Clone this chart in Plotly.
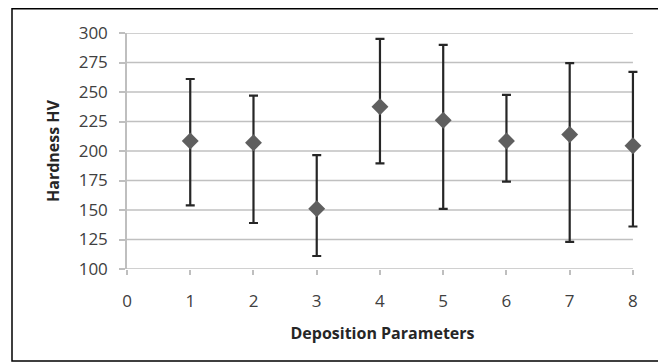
import plotly.graph_objects as go

params = [1, 2, 3, 4, 5, 6, 7, 8]
hardness = [208.5, 207, 151, 237.5, 226, 208.5, 214, 204.5]
upper = [261, 247, 196.5, 295, 290, 247.5, 274.5, 267]
lower = [154, 139, 111, 189.5, 151, 174, 123, 136]
y_ticks = [100, 125, 150, 175, 200, 225, 250, 275, 300]
x_ticks = [0, 1, 2, 3, 4, 5, 6, 7, 8]

err_plus = [u - m for u, m in zip(upper, hardness)]
err_minus = [m - l for m, l in zip(hardness, lower)]

font_family = "Open Sans, Liberation Sans, sans-serif"

fig = go.Figure()
fig.add_trace(go.Scatter(
    x=params, y=hardness, mode="markers",
    marker=dict(symbol="diamond", size=13, color="#5f5f5f"),
    error_y=dict(type="data", symmetric=False, array=err_plus, arrayminus=err_minus,
                 color="#262626", thickness=2.2, width=4.5),
    cliponaxis=False,
    showlegend=False,
))

# page body has an 8px margin, so the figure is drawn 8px in from the window edge
x_max_axis = 8.08
W, H = 658, 355
l, t, b = 119, 25, 94
pw = round(506 * x_max_axis / 8)
r = W - l - pw
ph = H - t - b

def px_x(p):
    return (p - l) / pw

def px_y(p):
    return (H - b - p) / ph

# horizontal gridlines ending at the last category
for yv in y_ticks:
    fig.add_shape(type="line", xref="x", yref="y", x0=x_ticks[0], x1=x_ticks[-1], y0=yv, y1=yv,
                  line=dict(color="#c0c0c0", width=1.5), layer="below")

fig.add_shape(type="rect", xref="paper", yref="paper",
              x0=px_x(4), x1=px_x(654), y0=px_y(353), y1=px_y(0.8),
              line=dict(color="black", width=1.5), layer="below")

fig.update_layout(
    width=W, height=H,
    margin=dict(l=l, r=r, t=t, b=b),
    paper_bgcolor="white", plot_bgcolor="white",
    font=dict(family=font_family, size=17, color="#404040"),
)
fig.update_xaxes(
    range=[0, x_max_axis], tickvals=x_ticks, showgrid=False, zeroline=False,
    showline=False,
    ticks="outside", ticklen=5, tickcolor="#bfbfbf", tickwidth=1.5,
    ticklabelstandoff=12,
    tickfont=dict(size=17, color="#404040"),
    title=dict(text="<b>Deposition Parameters</b>", standoff=16,
               font=dict(size=16, color="#262626")),
)
fig.update_yaxes(
    range=[y_ticks[0], y_ticks[-1]], tickvals=y_ticks, showgrid=False,
    zeroline=False, showline=True, linecolor="#bfbfbf", linewidth=1.5,
    ticks="outside", ticklen=6, tickcolor="#bfbfbf", tickwidth=1.5,
    ticklabelstandoff=8,
    tickfont=dict(size=17, color="#404040"),
    title=dict(text="<b>Hardness HV</b>", standoff=15,
               font=dict(size=16, color="#262626")),
)

fig.write_html("out.html")
